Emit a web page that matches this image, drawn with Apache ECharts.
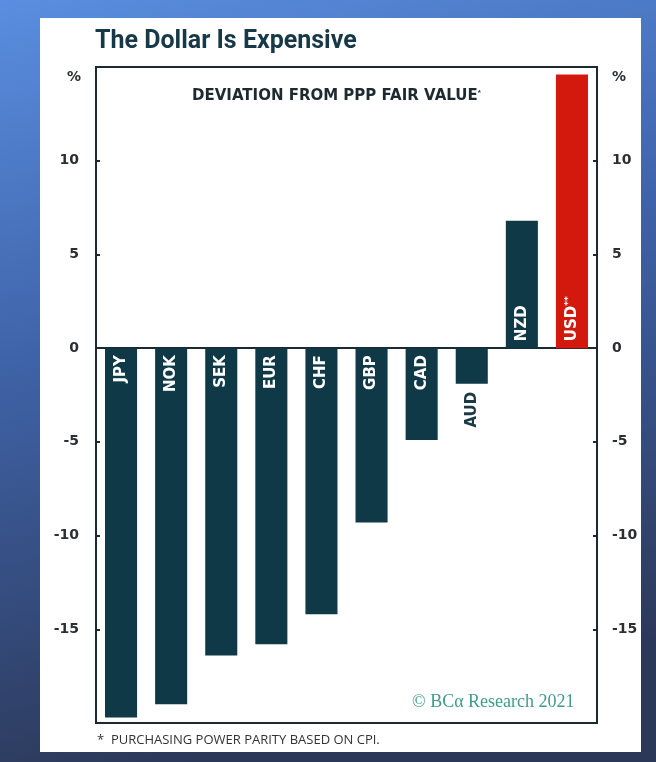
<!DOCTYPE html>
<html>
<head>
<meta charset="utf-8">
<script src="https://cdn.jsdelivr.net/npm/echarts@6/dist/echarts.min.js"></script>
<style>
  html, body { margin: 0; padding: 0; }
  #chart { width: 656px; height: 762px; }
</style>
</head>
<body>
<div id="chart"></div>
<script>
// currency deviation from PPP fair value, %
var currencies = ['JPY', 'NOK', 'SEK', 'EUR', 'CHF', 'GBP', 'CAD', 'AUD', 'NZD', 'USD'];
var deviation = [-19.7, -19.0, -16.4, -15.8, -14.2, -9.3, -4.9, -1.9, 6.8, 14.6];
var yTicks = [-20, -15, -10, -5, 0, 5, 10, 15];

var barColor = '#0f3946';
var usdColor = '#d3180e';
var labelFont = 'DejaVu Sans';

var myChart = echarts.init(document.getElementById('chart'));

var barData = deviation.map(function (v, i) {
  var name = currencies[i];
  var short = Math.abs(v) < 3; // label won't fit inside
  var lbl;
  if (short) {
    lbl = { position: 'bottom', align: 'right', color: '#1d3a44', distance: 8 };
  } else if (v < 0) {
    lbl = { position: 'insideTop', align: 'right', color: '#fff', distance: 7 };
  } else {
    lbl = { position: 'insideBottom', align: 'left', color: '#fff', distance: 7 };
  }
  return {
    value: v,
    itemStyle: { color: name === 'USD' ? usdColor : barColor },
    label: lbl
  };
});

var yAxisBase = {
  type: 'value',
  min: yTicks[0],
  max: yTicks[yTicks.length - 1],
  interval: 5,
  splitLine: { show: false },
  axisLine: { show: false },
  axisTick: { show: true, inside: true, length: 4, lineStyle: { color: '#1a2a30', width: 2 } },
  axisLabel: {
    color: '#2b2f33',
    fontFamily: labelFont,
    fontWeight: 'bold',
    fontSize: 14,
    formatter: function (v) {
      return (v === 15 || v === -20) ? '' : String(v);
    }
  }
};

myChart.setOption({
  animation: false,
  backgroundColor: new echarts.graphic.LinearGradient(0, 0, 0.3, 1, [
    { offset: 0, color: '#5a8ee0' },
    { offset: 0.45, color: '#3f63a8' },
    { offset: 1, color: '#2c3858' }
  ]),
  graphic: [
    { type: 'rect', z: -10, shape: { x: 40, y: 18, width: 601, height: 734 }, style: { fill: '#fff' } },
    { type: 'text', left: 95, top: 29, style: { text: 'The Dollar Is Expensive', fill: '#173846', font: 'bold 25px Roboto' } },
    {
      type: 'text', left: 192, top: 89,
      style: {
        text: 'DEVIATION FROM PPP FAIR VALUE{s|*}',
        fill: '#1d2a30', font: 'bold 15px "DejaVu Sans"',
        rich: { s: { fontSize: 8, fontWeight: 'bold', verticalAlign: 'top', fill: '#1d2a30' } }
      }
    },
    { type: 'text', left: 67, top: 70, style: { text: '%', fill: '#2b2f33', font: 'bold 14px "DejaVu Sans"' } },
    { type: 'text', left: 612, top: 70, style: { text: '%', fill: '#2b2f33', font: 'bold 14px "DejaVu Sans"' } },
    { type: 'text', left: 412, top: 693, style: { text: '\u00a9 BC\u03b1 Research 2021', fill: '#3f9c8a', font: '18px "Liberation Serif"' } },
    { type: 'text', left: 97, top: 734, style: { text: '*  PURCHASING POWER PARITY BASED ON CPI.', fill: '#333', font: '13px "Open Sans"' } }
  ],
  grid: {
    left: 96, right: 59, top: 67, bottom: 39,
    show: true, borderColor: '#1a2a30', borderWidth: 2, backgroundColor: '#fff'
  },
  xAxis: {
    type: 'category',
    data: currencies,
    axisLine: { onZero: true, lineStyle: { color: '#1a2a30', width: 2 } },
    axisTick: { show: false },
    axisLabel: { show: false }
  },
  yAxis: [
    Object.assign({}, yAxisBase, { position: 'left', axisLabel: Object.assign({}, yAxisBase.axisLabel, { margin: 17 }) }),
    Object.assign({}, yAxisBase, { position: 'right', axisLabel: Object.assign({}, yAxisBase.axisLabel, { margin: 15 }) })
  ],
  series: [{
    type: 'bar',
    data: barData,
    barWidth: '64%',
    label: {
      show: true,
      rotate: 90,
      verticalAlign: 'middle',
      fontFamily: labelFont,
      fontWeight: 'bold',
      fontSize: 15,
      formatter: function (p) {
        return p.name === 'USD' ? 'USD{s|**}' : p.name;
      },
      rich: { s: { fontSize: 9, fontWeight: 'bold', color: '#fff', verticalAlign: 'top' } }
    }
  }]
});
</script>
</body>
</html>
